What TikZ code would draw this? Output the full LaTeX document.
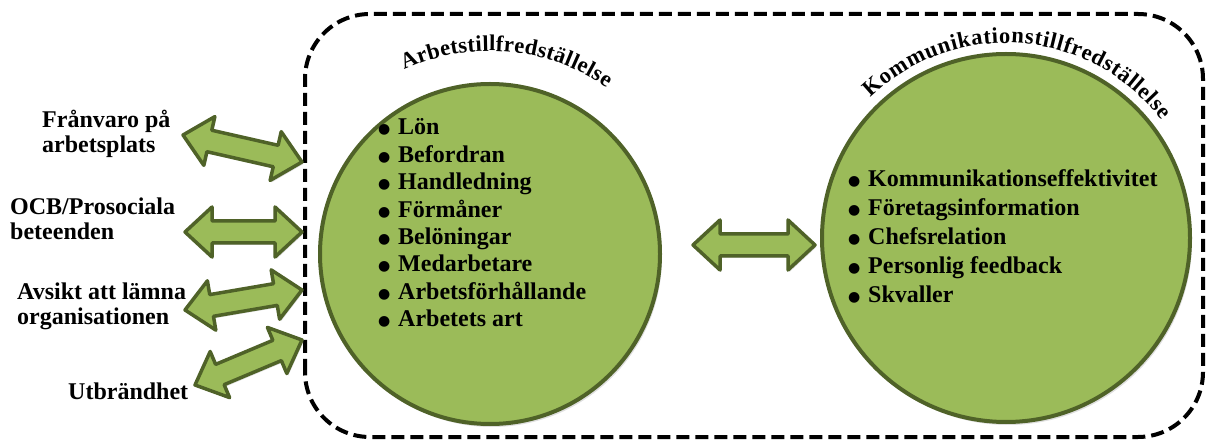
\documentclass[tikz,border=0pt]{standalone}
\usepackage{fontspec}
\setmainfont{Liberation Serif}
\newfontfamily\symfont{DejaVu Sans}
\usetikzlibrary{calc,decorations.text,shadows}

\definecolor{olivefill}{HTML}{9BBB59}
\definecolor{olivedark}{HTML}{4F6228}

\newcommand{\arcfont}{\fontsize{22.5}{25}\selectfont\bfseries}
\newcommand{\blt}{\makebox[20pt][l]{\raisebox{1pt}{\symfont\fontsize{14}{14}\selectfont ●}}}
% double arrow between two named points
\newcommand{\dblarrow}[2]{%
  \path[dblarr] (#1)
    -- ($(#1)!27pt!(#2)!25pt!90:(#2)$)
    -- ($(#1)!27pt!(#2)!11pt!90:(#2)$)
    -- ($(#2)!27pt!(#1)!11pt!-90:(#1)$)
    -- ($(#2)!27pt!(#1)!25pt!-90:(#1)$)
    -- (#2)
    -- ($(#2)!27pt!(#1)!25pt!90:(#1)$)
    -- ($(#2)!27pt!(#1)!11pt!90:(#1)$)
    -- ($(#1)!27pt!(#2)!11pt!-90:(#2)$)
    -- ($(#1)!27pt!(#2)!25pt!-90:(#2)$)
    -- cycle;}

\tikzset{
  frame/.style={draw=black, line width=4pt, dash pattern=on 13pt off 6pt, rounded corners=65pt},
  circ/.style={circle, draw=olivedark, line width=4pt, fill=olivefill, inner sep=0pt, minimum size=#1,
    drop shadow={opacity=0.25, shadow xshift=2pt, shadow yshift=-3pt}},
  dblarr/.style={draw=olivedark, line width=3.5pt, fill=olivefill, line join=round,
    drop shadow={opacity=0.25, shadow xshift=1.5pt, shadow yshift=-2pt}},
  lbl/.style={inner sep=0pt, font=\fontsize{24}{25}\selectfont\bfseries},
}

\begin{document}
\begin{tikzpicture}[x=1pt,y=1pt]
  \useasboundingbox (0,0) rectangle (1207,439);

  % frame round both circles
  \draw[frame] (305,2) rectangle (1203,425);

  \node[circ=340pt] (arbcirc) at (490,185) {};
  \node[circ=368pt] (komcirc) at (1006,201) {};

  % titles along the circles
  \path[decorate, decoration={text along path, text={|\arcfont|Arbetstillfredställelse}, text align={fit to path}}]
    ($(arbcirc.center)+(115:203)$) arc[start angle=115, end angle=55, radius=203];
  \path[decorate, decoration={text along path, text={|\arcfont|Kommunikationstillfredställelse}, text align={fit to path}}]
    ($(komcirc.center)+(134:195)$) arc[start angle=134, end angle=37, radius=195];

  % lists
  \node[lbl, font=\fontsize{24}{27.4}\selectfont\bfseries, anchor=base west] (arbitems) at (378,304)
    {\begin{tabular}[t]{@{}l@{}}\blt Lön\\\blt Befordran\\\blt Handledning\\\blt Förmåner\\
      \blt Belöningar\\\blt Medarbetare\\\blt Arbetsförhållande\\\blt Arbetets art\end{tabular}};
  \node[lbl, font=\fontsize{24}{29}\selectfont\bfseries, anchor=base west] (komitems) at (848,252)
    {\begin{tabular}[t]{@{}l@{}}\blt Kommunikationseffektivitet\\\blt Företagsinformation\\
      \blt Chefsrelation\\\blt Personlig feedback\\\blt Skvaller\end{tabular}};

  % outcomes
  \node[lbl, anchor=base west] (franvaro) at (42,311) {\begin{tabular}[t]{@{}l@{}}Frånvaro på\\arbetsplats\end{tabular}};
  \node[lbl, anchor=base west] (ocb) at (10,224) {\begin{tabular}[t]{@{}l@{}}OCB/Prosociala\\beteenden\end{tabular}};
  \node[lbl, anchor=base west] (avsikt) at (17,139) {\begin{tabular}[t]{@{}l@{}}Avsikt att lämna\\organisationen\end{tabular}};
  \node[lbl, anchor=base west] (utbrand) at (68,39) {Utbrändhet};

  % arrow ends
  \coordinate (fr-a) at (183,304);  \coordinate (fr-b) at (302,277);
  \coordinate (ocb-a) at (185,207); \coordinate (ocb-b) at (302,207);
  \coordinate (av-a) at (185,129);  \coordinate (av-b) at (302,149);
  \coordinate (ut-a) at (195,54);   \coordinate (ut-b) at (302,99);
  \coordinate (mid-a) at (693,194); \coordinate (mid-b) at (815,194);

  \dblarrow{fr-a}{fr-b}
  \dblarrow{ocb-a}{ocb-b}
  \dblarrow{av-a}{av-b}
  \dblarrow{ut-a}{ut-b}
  \dblarrow{mid-a}{mid-b}
\end{tikzpicture}
\end{document}
